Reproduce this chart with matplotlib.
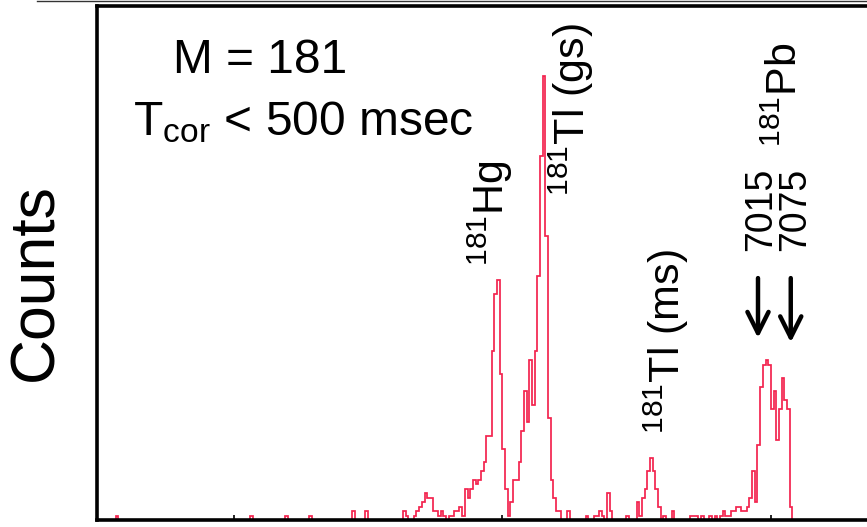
import numpy as np
import matplotlib
matplotlib.use("Agg")
import matplotlib.pyplot as plt
from matplotlib.lines import Line2D

plt.rcParams['font.family'] = ['Liberation Sans', 'DejaVu Sans']
plt.rcParams['mathtext.fontset'] = 'custom'
plt.rcParams['mathtext.rm'] = 'Liberation Sans'
plt.rcParams['mathtext.it'] = 'Liberation Sans'
plt.rcParams['mathtext.bf'] = 'Liberation Sans'

# ---- data: alpha energy histogram (5 keV bins starting at 5745 keV) ----
bin_start = 5745
bin_width = 5
counts = [
    0, 0, 0, 0, 0, 0, 0, 1, 0, 0, 0, 0, 0, 0, 0, 0, 0, 0, 0, 0,
    0, 0, 0, 0, 0, 0, 0, 0, 0, 0, 0, 0, 0, 0, 0, 0, 0, 0, 0, 0,
    0, 0, 0, 0, 0, 0, 0, 0, 0, 0, 0, 0, 0, 0, 0, 0, 0, 1, 0, 0,
    0, 0, 0, 0, 0, 0, 0, 0, 0, 0, 1, 0, 0, 0, 0, 0, 0, 0, 0, 1,
    0, 0, 0, 0, 0, 0, 0, 0, 0, 0, 0, 0, 0, 0, 0, 2, 0, 0, 0, 0,
    2, 0, 0, 0, 0, 0, 0, 0, 0, 0, 0, 0, 0, 0, 2, 1, 0, 0, 1, 2,
    3, 4, 6, 5, 5, 2, 2, 1, 2, 1, 0, 1, 1, 2, 2, 3, 1, 7, 5, 7,
    9, 8, 9, 11, 13, 19, 19, 38, 51, 54, 33, 16, 7, 1, 4, 9, 9, 13, 20, 29,
    22, 36, 26, 38, 55, 82, 100, 64, 23, 9, 5, 2, 2, 0, 0, 2, 0, 0, 0, 0,
    0, 0, 1, 0, 0, 1, 1, 2, 1, 0, 6, 2, 0, 0, 0, 0, 0, 1, 0, 0,
    0, 4, 1, 5, 7, 11, 14, 11, 7, 3, 0, 1, 0, 0, 2, 0, 0, 0, 0, 0,
    0, 1, 1, 1, 0, 1, 0, 0, 1, 0, 1, 0, 1, 2, 1, 1, 2, 2, 3, 3,
    2, 2, 3, 5, 11, 4, 17, 30, 35, 36, 35, 25, 29, 18, 25, 32, 27, 25, 3, 0,
    0, 0, 0, 0, 0, 0, 0, 0, 0, 0, 0, 0, 0, 0, 0, 0, 0, 0, 0, 0,
    0, 0, 0, 0, 0, 0, 0,
]
x_ticks = [6000, 6500, 7000]

# peak labels (energy, height, text)
label_x = [6477, 6629, 6806, 6982, 7046, 7028]
label_y = [69.1, 92.5, 40.3, 70.0, 70.0, 95.7]
label_text = [r'$^{\mathregular{181}}$Hg', r'$^{\mathregular{181}}$Tl (gs)',
              r'$^{\mathregular{181}}$Tl (ms)', '7015', '7075',
              r'$^{\mathregular{181}}$Pb']
label_size = [31, 31, 31, 27, 27, 31]

# arrows marking the two 181Pb lines
arrow_x = [6976, 7037]
arrow_tail = [54.5, 54.5]
arrow_tip = [41.0, 40.0]

# ---- figure ----
W, H = 867, 527
fig = plt.figure(figsize=(W / 100, H / 100), dpi=100)
ax = fig.add_axes([97 / W, 7 / H, 1 - 97 / W, 514 / H])

counts = np.array(counts, dtype=float)
edges = bin_start + bin_width * np.arange(len(counts) + 1)
ax.stairs(counts, edges, color='#f3234e', lw=1.25, baseline=0, zorder=2)

ax.set_xlim(5745, 7179)
ax.set_ylim(0, 115.8)

for s in ['left', 'top', 'bottom']:
    ax.spines[s].set_linewidth(2.6)
    ax.spines[s].set_color('black')
ax.spines['right'].set_visible(False)

ax.set_xticks(x_ticks)
ax.set_xticklabels([])
ax.set_yticks([])
ax.tick_params(axis='x', direction='in', length=3.5, width=1.2, color='black')

for xv, yv, t, fs in zip(label_x, label_y, label_text, label_size):
    ax.text(xv, yv, t, rotation=90, ha='center', va='center', fontsize=fs)

for xv, y0, y1 in zip(arrow_x, arrow_tail, arrow_tip):
    ax.annotate('', xy=(xv, y1), xytext=(xv, y0),
                arrowprops=dict(arrowstyle='->', lw=3.2, color='black',
                                mutation_scale=38, shrinkA=0, shrinkB=0))

ax.text((173 - 97) / 770, (520 - 73) / 514, 'M = 181', transform=ax.transAxes,
        ha='left', va='baseline', fontsize=34.5)
ax.text((133 - 97) / 770, (520 - 135) / 514, r'T$_{\mathregular{cor}}$ < 500 msec',
        transform=ax.transAxes, ha='left', va='baseline', fontsize=34.5)

fig.text(36 / W, 1 - 282 / H, 'Counts', rotation=90, ha='center', va='center',
         fontsize=45)

fig.add_artist(Line2D([37 / W, 1.0], [526 / H, 526 / H], color='#333333', lw=1.0))

fig.savefig('out.png', dpi=100)
